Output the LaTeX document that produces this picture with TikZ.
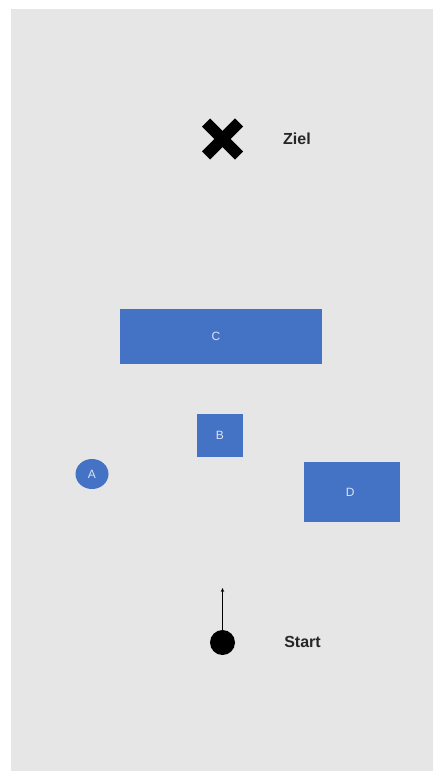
\documentclass[tikz,border=0pt]{standalone}
\usepackage{fontspec}
\setmainfont{Liberation Sans}
\usetikzlibrary{arrows.meta,shapes.geometric}
\definecolor{bg}{HTML}{E6E6E6}
\definecolor{boxblue}{HTML}{4472C4}
\definecolor{boxtext}{HTML}{DCE4F4}
\begin{document}
\begin{tikzpicture}[x=1pt,y=-1pt,
  blockbox/.style={draw=none,fill=boxblue,inner sep=0pt,anchor=north west},
  boxlabel/.style={text=boxtext,font=\fontsize{12}{14}\selectfont,inner sep=0pt},
  biglabel/.style={font=\bfseries\fontsize{16}{19}\selectfont,text=black!85}]
\useasboundingbox (0,0) rectangle (434,771);
\fill[white] (0,0) rectangle (434,771);
\fill[bg] (11,9) rectangle (433,771);
% goal cross
\node (goal) at (222.5,139) {};
\draw[line width=11.5pt] (206,122.5) -- (239,155.5);
\draw[line width=11.5pt] (239,122.5) -- (206,155.5);
\node[biglabel] (ziel) at (297,139) {Ziel};
% blocks
\node[blockbox,minimum width=201.5pt,minimum height=55pt,label={[boxlabel,xshift=-5pt]center:C}] (C) at (120,309) {};
\node[blockbox,minimum width=46.5pt,minimum height=43pt,label={[boxlabel]center:B}] (B) at (196.5,414) {};
\node[blockbox,minimum width=96pt,minimum height=60pt,label={[boxlabel,xshift=-2pt]center:D}] (D) at (304,462) {};
\node[ellipse,fill=boxblue,text=boxtext,font=\fontsize{12}{14}\selectfont,inner sep=0pt,minimum width=33pt,minimum height=30pt] (A) at (92,474) {A};
% start
\node[circle,fill=black,minimum size=25pt,inner sep=0pt] (start) at (222.5,642.5) {};
\coordinate (tip) at (222.5,588);
\draw[line width=0.8pt,-{Stealth[length=4pt,width=3.5pt]}] (start.north) -- (tip);
\node[biglabel] (startlbl) at (302.5,641.5) {Start};
\end{tikzpicture}
\end{document}
